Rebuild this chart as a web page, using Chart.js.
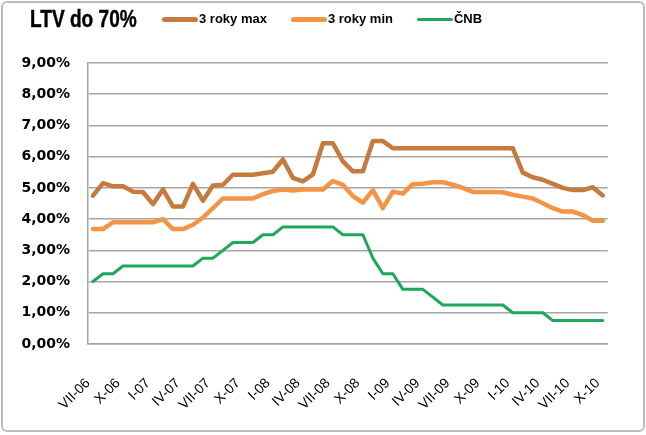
<!DOCTYPE html>
<html>
<head>
<meta charset="utf-8">
<script src="https://cdn.jsdelivr.net/npm/chart.js@4/dist/chart.umd.min.js"></script>
<style>
  html, body { margin: 0; padding: 0; background: #fff; }
  #wrap { position: relative; width: 646px; height: 435px; overflow: hidden; }
  #frame { position: absolute; left: 1px; top: 1px; width: 640px; height: 427px;
           border: 2px solid #bdbdbd; border-radius: 6px; }
  #title { position: absolute; left: 30px; top: 8px; font: bold 23px "Liberation Sans", Arial, sans-serif;
           color: #000; line-height: 23px; white-space: nowrap; -webkit-text-stroke: 0.4px #000;
           transform: scaleX(0.83); transform-origin: 0 0; }
  #legend { position: absolute; left: 162px; top: 12px; display: flex; align-items: center;
            font: bold 13px "Liberation Sans", Arial, sans-serif; color: #000; line-height: 14px; }
  .item { display: flex; align-items: center; margin-right: 24px; white-space: nowrap; }
  .swatch { width: 36px; border-radius: 3px; margin-right: 1px; }
  canvas { position: absolute; left: 0; top: 0; }
</style>
</head>
<body>
<div id="wrap">
  <div id="frame"></div>
  <canvas id="c" width="646" height="435"></canvas>
  <div id="title">LTV do 70%</div>
  <div id="legend"></div>
</div>
<script>
// měsíce VII-06 .. X-10, popisek jen u každého třetího
const months = [
  'VII-06','VIII-06','IX-06','X-06','XI-06','XII-06',
  'I-07','II-07','III-07','IV-07','V-07','VI-07','VII-07','VIII-07','IX-07','X-07','XI-07','XII-07',
  'I-08','II-08','III-08','IV-08','V-08','VI-08','VII-08','VIII-08','IX-08','X-08','XI-08','XII-08',
  'I-09','II-09','III-09','IV-09','V-09','VI-09','VII-09','VIII-09','IX-09','X-09','XI-09','XII-09',
  'I-10','II-10','III-10','IV-10','V-10','VI-10','VII-10','VIII-10','IX-10','X-10'
];

const seriesNames = ['3 roky max', '3 roky min', 'ČNB'];

const maxRate = [
  4.75, 5.15, 5.05, 5.05, 4.88, 4.87, 4.48, 4.95, 4.40, 4.40,
  5.13, 4.59, 5.08, 5.10, 5.42, 5.42, 5.42, 5.47, 5.52, 5.91,
  5.32, 5.21, 5.43, 6.43, 6.43, 5.85, 5.53, 5.53, 6.50, 6.50,
  6.27, 6.27, 6.27, 6.27, 6.27, 6.27, 6.27, 6.27, 6.27, 6.27,
  6.27, 6.27, 6.27, 5.49, 5.34, 5.26, 5.13, 5.00, 4.93, 4.93,
  5.02, 4.76
];

const minRate = [
  3.68, 3.68, 3.90, 3.90, 3.90, 3.90, 3.90, 4.00, 3.68, 3.68,
  3.82, 4.05, 4.35, 4.66, 4.66, 4.66, 4.66, 4.80, 4.90, 4.95,
  4.92, 4.95, 4.95, 4.95, 5.22, 5.10, 4.74, 4.53, 4.93, 4.35,
  4.88, 4.82, 5.12, 5.13, 5.18, 5.18, 5.10, 5.00, 4.87, 4.87,
  4.87, 4.86, 4.78, 4.72, 4.66, 4.51, 4.35, 4.24, 4.24, 4.13,
  3.95, 3.95
];

const cnbRate = [
  2.00, 2.25, 2.25, 2.50, 2.50, 2.50, 2.50, 2.50, 2.50, 2.50,
  2.50, 2.75, 2.75, 3.00, 3.25, 3.25, 3.25, 3.50, 3.50, 3.75,
  3.75, 3.75, 3.75, 3.75, 3.75, 3.50, 3.50, 3.50, 2.75, 2.25,
  2.25, 1.75, 1.75, 1.75, 1.50, 1.25, 1.25, 1.25, 1.25, 1.25,
  1.25, 1.25, 1.00, 1.00, 1.00, 1.00, 0.75, 0.75, 0.75, 0.75,
  0.75, 0.75
];

const COLORS = ['#C47B3D', '#F39447', '#1FA85A'];
const WIDTHS = [4.5, 4.5, 3];
const GRID = '#a6a6a6';

// legenda v HTML (v originále je v jedné řadě s nadpisem)
const legend = document.getElementById('legend');
seriesNames.forEach((name, i) => {
  const it = document.createElement('div');
  it.className = 'item';
  const sw = document.createElement('div');
  sw.className = 'swatch';
  sw.style.background = COLORS[i];
  sw.style.height = (i === 2 ? 3 : 5) + 'px';
  const tx = document.createElement('span');
  tx.textContent = name;
  it.appendChild(sw);
  it.appendChild(tx);
  legend.appendChild(it);
});

const values = [maxRate, minRate, cnbRate];

new Chart(document.getElementById('c'), {
  type: 'line',
  data: {
    labels: months,
    datasets: seriesNames.map((name, i) => ({
      label: name,
      data: values[i],
      borderColor: COLORS[i],
      backgroundColor: COLORS[i],
      borderWidth: WIDTHS[i],
      pointRadius: 0,
      tension: 0,
      borderJoinStyle: 'round',
      borderCapStyle: 'round'
    }))
  },
  options: {
    responsive: false,
    animation: false,
    events: [],
    layout: { padding: { left: 0, top: 63, right: 34, bottom: 0 } },
    plugins: { legend: { display: false }, title: { display: false }, tooltip: { enabled: false } },
    scales: {
      x: {
        offset: true,
        afterFit: s => { s.height = 91; },
        grid: { display: false, drawTicks: false },
        border: { display: true, color: GRID, width: 1.5 },
        ticks: {
          autoSkip: false,
          minRotation: 45,
          maxRotation: 45,
          padding: 31,
          labelOffset: -5,
          color: '#000',
          font: { family: '"Liberation Sans", Arial, sans-serif', size: 14 },
          callback: (v, i) => (i % 3 === 0 ? months[i] : '')
        }
      },
      y: {
        min: 0,
        max: 9,
        afterFit: s => { s.width = 88; },
        grid: { color: GRID, lineWidth: 1.5, drawTicks: false },
        border: { display: true, color: GRID, width: 1.5 },
        ticks: {
          stepSize: 1,
          padding: 18,
          color: '#000',
          font: { family: '"DejaVu Sans", sans-serif', size: 14, weight: 'bold' },
          callback: v => v.toFixed(2).replace('.', ',') + '%'
        }
      }
    }
  }
});
</script>
</body>
</html>
